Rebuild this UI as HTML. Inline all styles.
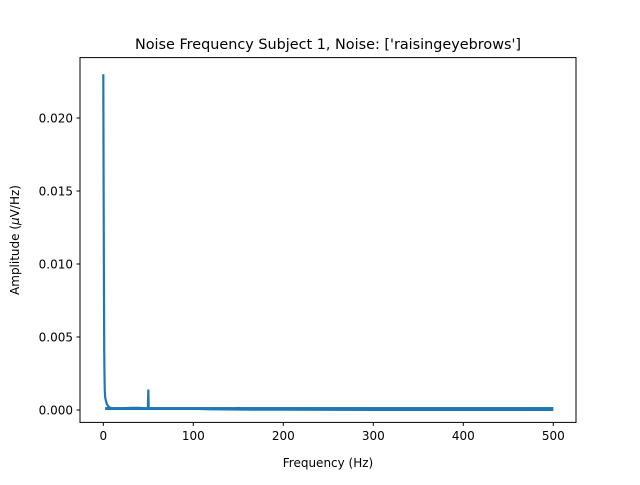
<!DOCTYPE html>
<html><head><meta charset="utf-8"><style>
body{margin:0;background:#fff;}
svg text{font-family:"DejaVu Sans","Liberation Sans",sans-serif;fill:#000;}
</style></head><body>
<svg id="chart" width="640" height="480" viewBox="0 0 640 480">
<rect width="640" height="480" fill="#fff"/>
<text x="328" y="49" font-size="14.4" text-anchor="middle">Noise Frequency Subject 1, Noise: ['raisingeyebrows']</text>
<g id="plot"></g>
<rect x="80" y="57.6" width="496" height="364.8" fill="none" stroke="#000" stroke-width="1"/>
<g id="xt"></g><g id="yt"></g>
<text x="328" y="467" font-size="12" text-anchor="middle">Frequency (Hz)</text>
<text transform="translate(19,240) rotate(-90)" font-size="12" text-anchor="middle">Amplitude (<tspan font-style="italic">μ</tspan>V/Hz)</text>
</svg>
<script>
const freqs=[0,0.3,0.6,1,1.3,1.6,2,3,4,6,8,10,15,20,30,40,49.5,50,50.5,51,60,70,80,100,120,149.5,150,150.5,200,300,400,500];
const amps=[0.0230,0.0165,0.0105,0.0042,0.0025,0.0014,0.0009,0.0006,0.0004,0.0002,0.00015,0.0001,0.0001,0.0001,0.00015,0.00015,0.0001,0.0014,0.0001,0.0001,0.0001,0.0001,0.0001,0.00008,0.00005,0.00003,0.0002,0.00003,0.00002,0.00001,0.00001,0.00001];
const xTicks=[0,100,200,300,400,500];
const yTicks=[0,0.005,0.010,0.015,0.020];
const NS="http://www.w3.org/2000/svg";
const X=v=>103.3+v*0.9;
const Y=v=>410-v*14600;
const plot=document.getElementById('plot');
let d=freqs.map((f,i)=>(i?'L':'M')+X(f).toFixed(2)+','+Y(amps[i]).toFixed(2)).join(' ');
const p=document.createElementNS(NS,'path');
p.setAttribute('d',d);p.setAttribute('fill','none');p.setAttribute('stroke','#1f77b4');p.setAttribute('stroke-width','2.2');


plot.appendChild(p);
const band=document.createElementNS(NS,'rect');
band.setAttribute('x',X(2));band.setAttribute('y',Y(0.0001)-1.5);band.setAttribute('width',X(500)-X(2));band.setAttribute('height',3);band.setAttribute('fill','#1f77b4');


plot.appendChild(band);
const xt=document.getElementById('xt');
xTicks.forEach(v=>{
 const l=document.createElementNS(NS,'line');
 l.setAttribute('x1',X(v));l.setAttribute('x2',X(v));l.setAttribute('y1',422.4);l.setAttribute('y2',425.9);l.setAttribute('stroke','#000');
 
 
 xt.appendChild(l);
 const t=document.createElementNS(NS,'text');
 t.setAttribute('x',X(v));t.setAttribute('y',440);t.setAttribute('font-size','12');t.setAttribute('text-anchor','middle');t.textContent=v;
 
 
 xt.appendChild(t);
});
const yt=document.getElementById('yt');
yTicks.forEach(v=>{
 const l=document.createElementNS(NS,'line');
 l.setAttribute('x1',76.5);l.setAttribute('x2',80);l.setAttribute('y1',Y(v));l.setAttribute('y2',Y(v));l.setAttribute('stroke','#000');
 
 
 yt.appendChild(l);
 const t=document.createElementNS(NS,'text');
 t.setAttribute('x',73);t.setAttribute('y',Y(v)+4.5);t.setAttribute('font-size','12');t.setAttribute('text-anchor','end');t.textContent=v.toFixed(3);
 
 
 yt.appendChild(t);
});
</script>
</body></html>
